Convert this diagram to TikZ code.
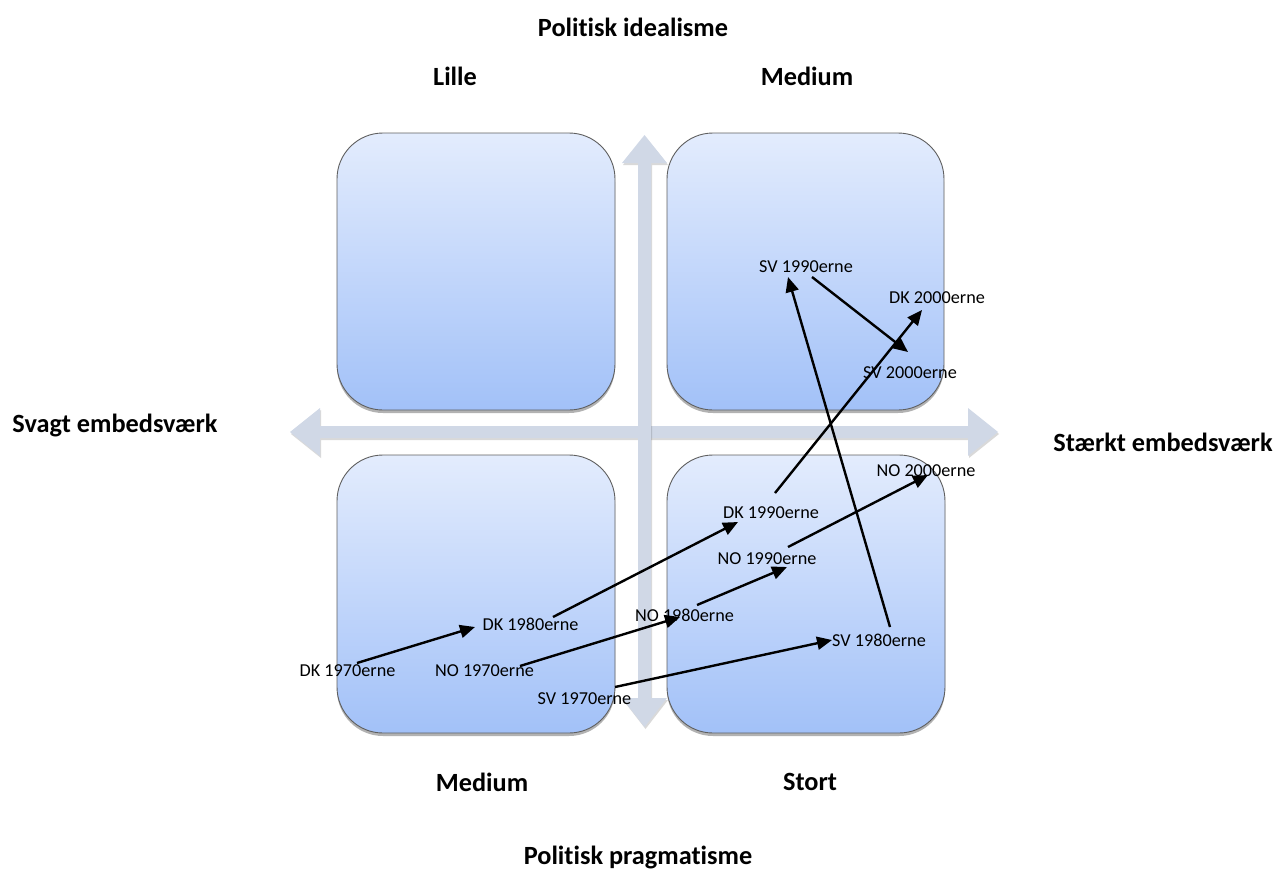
\documentclass[tikz,border=0pt]{standalone}
\usepackage{fontspec}
\setmainfont{Carlito}[Ligatures=CommonOff]
\usetikzlibrary{arrows.meta,shadows}
\definecolor{axiscol}{HTML}{D0D8E6}
\definecolor{boxtop}{HTML}{E3ECFD}
\definecolor{boxbot}{HTML}{A2C1F8}
\definecolor{boxline}{HTML}{5F5F5F}
\begin{document}
\begin{tikzpicture}[x=1pt,y=-1pt,
  quad/.style={draw=boxline, line width=0.9pt, rounded corners=46pt,
    top color=boxtop, bottom color=boxbot,
    drop shadow={shadow xshift=0pt, shadow yshift=-3pt, opacity=0.3, fill=black}},
  axis/.style={fill=axiscol, drop shadow={shadow xshift=1pt, shadow yshift=-2pt, opacity=0.15, fill=black}},
  head/.style={font=\fontsize{26.3}{31}\selectfont\bfseries, inner sep=0pt},
  lab/.style={font=\fontsize{18.2}{22}\selectfont, inner sep=0pt},
  conn/.style={line width=2.4pt, -{Triangle[length=15pt,width=13pt]}}]
\useasboundingbox (0,0) rectangle (1277,868);
% axes
\path[axis] (290,432) -- (320,408) -- (320,426) -- (968,426) -- (968,408) -- (998,432)
  -- (968,456) -- (968,438) -- (320,438) -- (320,456) -- cycle;
\path[axis] (644.5,135) -- (667,163) -- (651,163) -- (651,698) -- (667,698) -- (644.5,727)
  -- (622,698) -- (638,698) -- (638,163) -- (622,163) -- cycle;
% quadrants
\path[quad] (337,133) rectangle (615,410);
\path[quad] (667,133) rectangle (944,410);
\path[quad] (337,455) rectangle (615,733);
\path[quad] (667,455) rectangle (945,733);
% headings
\node[head] (pi) at (633,27) {Politisk idealisme};
\node[head] (pp) at (638,857) {Politisk pragmatisme};
\node[head] (lille) at (455,76) {Lille};
\node[head] (medt) at (807,76) {Medium};
\node[head] (medb) at (482,782) {Medium};
\node[head] (stort) at (810,782) {Stort};
\node[head] (svagt) at (115,425) {Svagt embedsværk};
\node[head] (staerkt) at (1163,442) {Stærkt embedsværk};
% labels
\node[lab] (sv90) at (806,267) {SV 1990erne};
\node[lab] (dk00) at (937,298) {DK 2000erne};
\node[lab] (sv00) at (910,373) {SV 2000erne};
\node[lab] (no00) at (926,471) {NO 2000erne};
\node[lab] (dk90) at (771,513) {DK 1990erne};
\node[lab] (no90) at (767,559) {NO 1990erne};
\node[lab] (no80) at (684.5,615) {NO 1980erne};
\node[lab] (sv80) at (879,640) {SV 1980erne};
\node[lab] (dk70) at (347.5,671) {DK 1970erne};
\node[lab] (dk80) at (530.5,624) {DK 1980erne};
\node[lab] (no70) at (484.5,671) {NO 1970erne};
\node[lab] (sv70) at (584.5,699) {SV 1970erne};
% connector ends
\coordinate (dk70o) at (357,663);  \coordinate (dk80i) at (475,627);
\coordinate (dk80o) at (553,617);  \coordinate (dk90i) at (738,522);
\coordinate (dk90o) at (775,493);  \coordinate (dk00i) at (922,310);
\coordinate (no70o) at (520,666);  \coordinate (no80i) at (680,617);
\coordinate (no80o) at (697,605);  \coordinate (no90i) at (787,567);
\coordinate (no90o) at (788,547);  \coordinate (no00i) at (928,475);
\coordinate (sv70o) at (615,687);  \coordinate (sv80i) at (832,640);
\coordinate (sv80o) at (890,627);  \coordinate (sv90i) at (788,277);
\coordinate (sv90o) at (812,277);  \coordinate (sv00i) at (908,352);
% connectors
\draw[conn] (dk70o) -- (dk80i);
\draw[conn] (dk80o) -- (dk90i);
\draw[conn] (dk90o) -- (dk00i);
\draw[conn] (no70o) -- (no80i);
\draw[conn] (no80o) -- (no90i);
\draw[conn] (no90o) -- (no00i);
\draw[conn] (sv70o) -- (sv80i);
\draw[conn] (sv80o) -- (sv90i);
\draw[conn] (sv90o) -- (sv00i);
\end{tikzpicture}
\end{document}
